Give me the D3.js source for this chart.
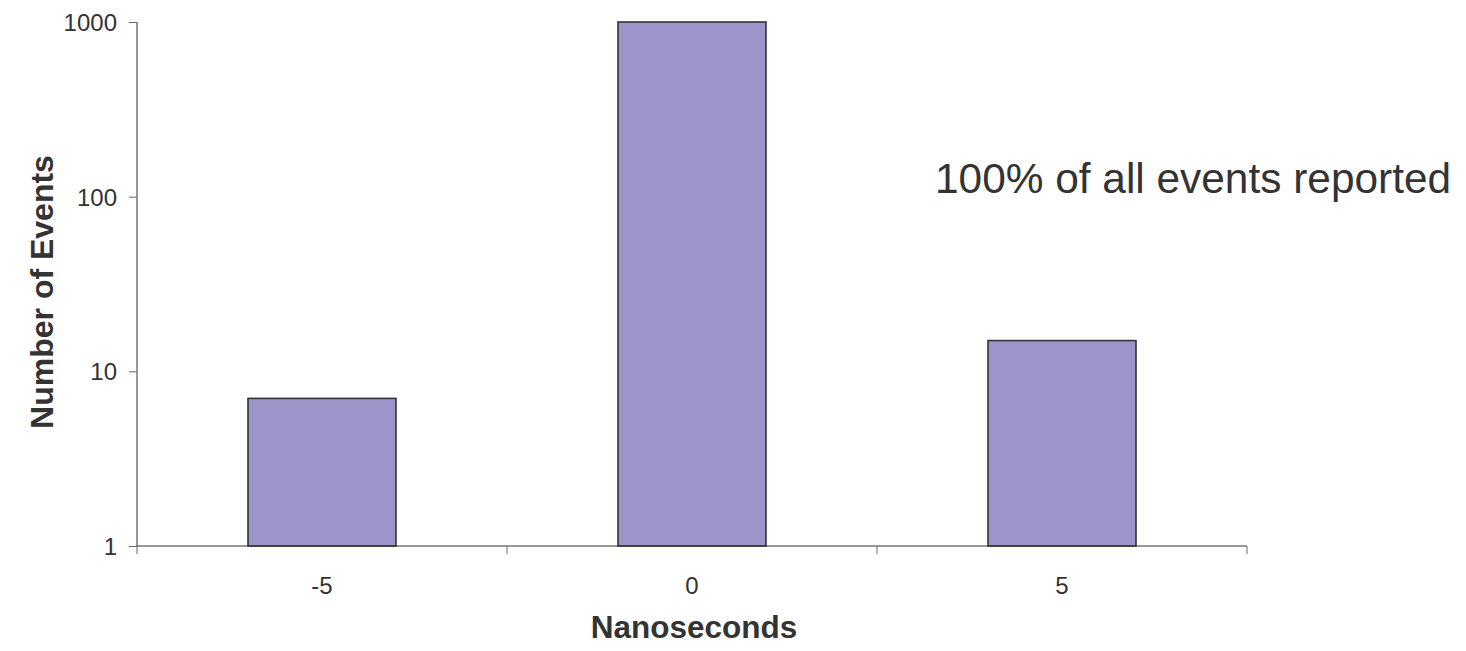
<!DOCTYPE html>
<html>
<head>
<meta charset="utf-8">
<script src="https://cdn.jsdelivr.net/npm/d3@7"></script>
<style>
    body { margin: 0; background: #fff; }
    text { font-family: "Liberation Sans", Arial, sans-serif; fill: #333; }
</style>
</head>
<body>
<div id="chart"></div>
<script>
const categories = ["-5", "0", "5"];
const counts = [7, 1000, 15];
const yTicks = [1, 10, 100, 1000];
const note = "100% of all events reported";

const W = 1466, H = 651;
const margin = { top: 22, right: 219, bottom: 105, left: 137 };
const width = W - margin.left - margin.right;
const height = H - margin.top - margin.bottom;

const svg = d3.select("#chart")
    .append("svg")
    .attr("width", W)
    .attr("height", H)
    .append("g")
    .attr("transform", `translate(${margin.left},${margin.top})`);

const x = d3.scaleBand()
    .domain(categories)
    .range([0, width])
    .paddingInner(0.6)
    .paddingOuter(0.3);

const y = d3.scaleLog()
    .domain([1, 1000])
    .range([height, 0]);

// bars
svg.selectAll(".bar")
    .data(counts)
    .enter()
    .append("rect")
    .attr("class", "bar")
    .attr("x", (d, i) => x(categories[i]))
    .attr("y", d => y(d))
    .attr("width", x.bandwidth())
    .attr("height", d => y(1) - y(d))
    .attr("fill", "#9b95c9")
    .attr("stroke", "#333")
    .attr("stroke-width", 1.6);

// y axis
const yAxis = svg.append("g")
    .call(d3.axisLeft(y).tickValues(yTicks).tickFormat(d3.format("d")).tickSize(8).tickPadding(12));
yAxis.select(".domain").attr("stroke", "#333").attr("d", `M0,0V${height}`);
yAxis.selectAll(".tick line").attr("stroke", "#666");
yAxis.selectAll("text").style("font-size", "24px").attr("dy", "0.36em");

// x axis
const xAxis = svg.append("g")
    .attr("transform", `translate(0,${height})`)
    .call(d3.axisBottom(x).tickSize(0).tickPadding(31));
xAxis.select(".domain").attr("stroke", "#333").attr("d", `M0,0H${width}`);
xAxis.selectAll("text").style("font-size", "24px");

// category boundary ticks
const step = x.step();
const bounds = d3.range(categories.length + 1).map(i => i * step);
svg.append("g")
    .attr("transform", `translate(0,${height})`)
    .selectAll("line")
    .data(bounds)
    .enter()
    .append("line")
    .attr("x1", d => d)
    .attr("x2", d => d)
    .attr("y1", 0)
    .attr("y2", 8)
    .attr("stroke", "#666");

// axis titles
svg.append("text")
    .attr("x", width / 2 + 2)
    .attr("y", 616)
    .attr("text-anchor", "middle")
    .style("font-size", "31.5px")
    .style("font-weight", "bold")
    .text("Nanoseconds");

svg.append("text")
    .attr("transform", `translate(${53 - margin.left},${292 - margin.top}) rotate(-90)`)
    .attr("text-anchor", "middle")
    .style("font-size", "32px")
    .style("font-weight", "bold")
    .text("Number of Events");

// annotation
svg.append("text")
    .attr("x", 935 - margin.left)
    .attr("y", 193 - margin.top)
    .style("font-size", "42.4px")
    .text(note);
</script>
</body>
</html>
